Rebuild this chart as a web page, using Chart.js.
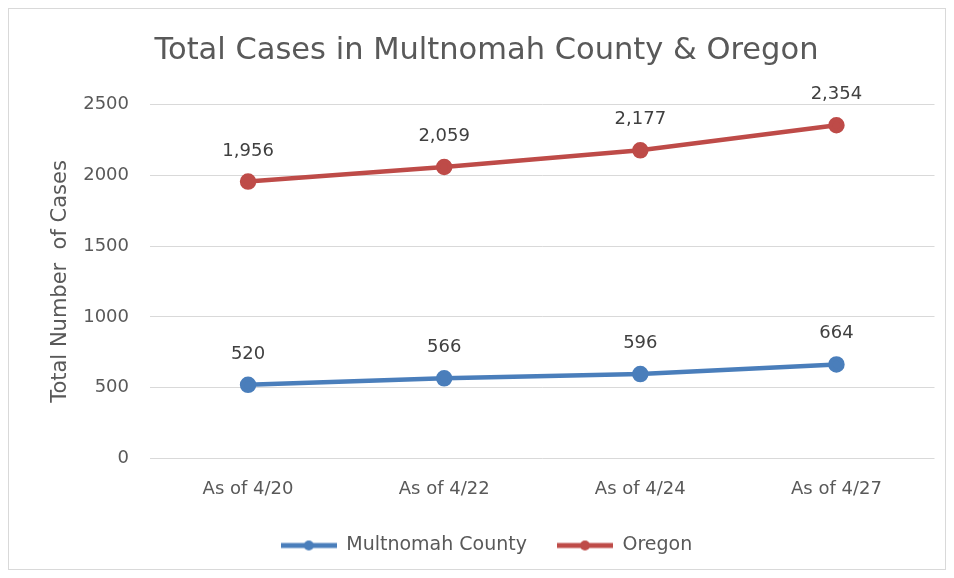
<!DOCTYPE html>
<html>
<head>
<meta charset="utf-8">
<script src="https://cdn.jsdelivr.net/npm/chart.js@4"></script>
<style>
  html, body { margin: 0; padding: 0; background: #ffffff; }
  #frame {
    position: absolute; left: 8px; top: 8px;
    width: 936px; height: 560px;
    border: 1px solid #d9d9d9; background: #ffffff;
  }
  canvas { display: block; }
</style>
</head>
<body>
<div id="frame"><canvas id="casesChart" width="936" height="560"></canvas></div>
<script>
// chart data
const dateLabels = ['As of 4/20', 'As of 4/22', 'As of 4/24', 'As of 4/27'];
const multnomahCases = [520, 566, 596, 664];
const oregonCases = [1956, 2059, 2177, 2354];
const yTicks = [0, 500, 1000, 1500, 2000, 2500];

const textGray = '#595959';
const blueLine = '#4a7ebb';
const redLine = '#be4b48';
const fontName = "'DejaVu Sans', sans-serif";

// legend swatch: short line with a dot in the middle
function makeSwatch(color) {
  const c = document.createElement('canvas');
  c.width = 56; c.height = 12;
  const g = c.getContext('2d');
  g.strokeStyle = color; g.lineWidth = 5;
  g.beginPath(); g.moveTo(0, 6); g.lineTo(56, 6); g.stroke();
  g.fillStyle = color;
  g.beginPath(); g.arc(28, 6, 5, 0, Math.PI * 2); g.fill();
  return c;
}

// draws number labels above each point
const valueLabels = {
  id: 'valueLabels',
  afterDatasetsDraw(chart) {
    const ctx = chart.ctx;
    ctx.save();
    ctx.font = '18px ' + fontName;
    ctx.fillStyle = '#404040';
    ctx.textAlign = 'center';
    ctx.textBaseline = 'alphabetic';
    chart.data.datasets.forEach((ds, i) => {
      chart.getDatasetMeta(i).data.forEach((pt, j) => {
        ctx.fillText(ds.data[j].toLocaleString('en-US'), pt.x, pt.y - 26);
      });
    });
    ctx.restore();
  }
};

new Chart(document.getElementById('casesChart'), {
  type: 'line',
  data: {
    labels: dateLabels,
    datasets: [
      { label: 'Multnomah County', data: multnomahCases, borderColor: blueLine, backgroundColor: blueLine,
        borderWidth: 4.5, pointRadius: 6, pointHoverRadius: 6 },
      { label: 'Oregon', data: oregonCases, borderColor: redLine, backgroundColor: redLine,
        borderWidth: 4.5, pointRadius: 6, pointHoverRadius: 6 }
    ]
  },
  options: {
    responsive: false,
    animation: false,
    devicePixelRatio: 1,
    layout: { padding: { left: 23, right: 4, top: 14, bottom: 4 } },
    plugins: {
      title: {
        display: true,
        text: 'Total Cases in Multnomah County & Oregon',
        color: textGray,
        font: { family: fontName, size: 30.5, weight: 'normal' },
        padding: { top: 10, bottom: 35 }
      },
      legend: {
        position: 'bottom',
        labels: {
          color: textGray,
          font: { family: fontName, size: 19 },
          usePointStyle: true,
          pointStyleWidth: 56,
          boxHeight: 12,
          padding: 30,
          generateLabels(chart) {
            const items = Chart.defaults.plugins.legend.labels.generateLabels(chart);
            items.forEach((it, i) => { it.pointStyle = makeSwatch(i === 0 ? blueLine : redLine); });
            return items;
          }
        }
      },
      tooltip: { enabled: false }
    },
    scales: {
      x: {
        offset: true,
        grid: { display: false },
        border: { display: false },
        ticks: { color: textGray, font: { family: fontName, size: 18 }, padding: 12 },
        afterFit(axis) { axis.height -= 6; }
      },
      y: {
        min: 0,
        max: 2500,
        afterBuildTicks(axis) { axis.ticks = yTicks.map(v => ({ value: v })); },
        afterFit(axis) { axis.width = 118; },
        grid: { color: '#d9d9d9', lineWidth: 1, drawTicks: false },
        border: { display: false },
        ticks: { color: textGray, font: { family: fontName, size: 18 }, padding: 21,
                 callback: (value) => String(value) },
        title: {
          display: true,
          text: 'Total Number  of Cases',
          color: textGray,
          font: { family: fontName, size: 21 },
          padding: { top: 16, bottom: 0 }
        }
      }
    }
  },
  plugins: [valueLabels]
});
</script>
</body>
</html>
